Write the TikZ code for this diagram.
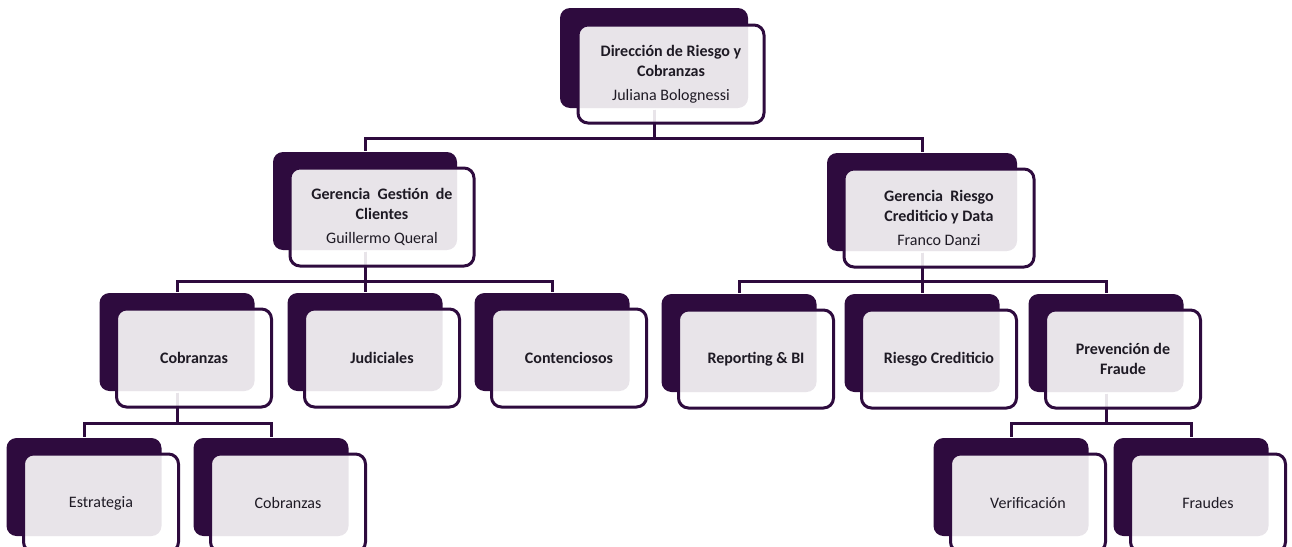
\documentclass[tikz,border=0pt]{standalone}
\usepackage{fontspec}
\setmainfont{Carlito}
\usetikzlibrary{positioning}
\definecolor{orgdark}{HTML}{2E0B3E}
\definecolor{orgtext}{HTML}{1E1A24}

\begin{document}
\begin{tikzpicture}[
                x=1pt,y=-1pt,
                line width=3pt,
                back/.style={fill=orgdark,rounded corners=10pt,minimum width=155pt,minimum height=98pt,inner sep=0pt},
                front/.style={draw=orgdark,fill=white,fill opacity=0.89,text opacity=1,rounded corners=10pt,
                              minimum width=155pt,minimum height=98pt,inner sep=0pt,align=center,text=orgtext,
                              font=\fontsize{16}{20}\selectfont\bfseries},
                conn/.style={draw=orgdark}] %

\useasboundingbox (0,0) rectangle (1292,546);

% back boxes

                    % 1
                    \node[back,minimum width=188pt,minimum height=100pt] (DIR-b) at (654,58) {};

                    % 2
                    \node[back,minimum width=184pt] (GGC-b) at (365,201) {};
                    \node[back,minimum width=190pt] (GRC-b) at (922,202) {};

                    % 3
                    \node[back] (COB-b) at (177,342) {};
                    \node[back] (JUD-b) at (365,342) {};
                    \node[back] (CON-b) at (552,342) {};
                    \node[back] (REP-b) at (739,343) {};
                    \node[back] (RCR-b) at (922,343) {};
                    \node[back] (PRF-b) at (1106,343) {};

                    % 4
                    \node[back] (EST-b) at (84,487) {};
                    \node[back] (COB2-b) at (271,487) {};
                    \node[back] (VER-b) at (1011,487) {};
                    \node[back] (FRA-b) at (1191,487) {};

% connectors

                    \draw[conn] (DIR-b.south) -- ++(0,29) -| (GGC-b.north);
                    \draw[conn] (DIR-b.south) -- ++(0,29) -| (GRC-b.north);

                    \draw[conn] (GGC-b.south) -- ++(0,30) -| (COB-b.north);
                    \draw[conn] (GGC-b.south) -- (JUD-b.north);
                    \draw[conn] (GGC-b.south) -- ++(0,30) -| (CON-b.north);

                    \draw[conn] (GRC-b.south) -- ++(0,29) -| (REP-b.north);
                    \draw[conn] (GRC-b.south) -- (RCR-b.north);
                    \draw[conn] (GRC-b.south) -- ++(0,29) -| (PRF-b.north);

                    \draw[conn] (COB-b.south) -- ++(0,31) -| (EST-b.north);
                    \draw[conn] (COB-b.south) -- ++(0,31) -| (COB2-b.north);

                    \draw[conn] (PRF-b.south) -- ++(0,30) -| (VER-b.north);
                    \draw[conn] (PRF-b.south) -- ++(0,30) -| (FRA-b.north);

% front boxes

                    % 1
                    \node[front,minimum width=186pt] (DIR) at ([shift={(17,16)}]DIR-b.center) {Dirección de Riesgo y\\Cobranzas\\[4pt]{\mdseries Juliana Bolognessi}};

                    % 2
                    \node[front,minimum width=184pt] (GGC) at ([shift={(17,16)}]GGC-b.center) {Gerencia \ Gestión \ de\\Clientes\\[4pt]{\mdseries Guillermo Queral}};
                    \node[front,minimum width=190pt] (GRC) at ([shift={(17,16)}]GRC-b.center) {Gerencia \ Riesgo\\Crediticio y Data\\[4pt]{\mdseries Franco Danzi}};

                    % 3
                    \node[front] (COB) at ([shift={(17,16)}]COB-b.center) {Cobranzas};
                    \node[front] (JUD) at ([shift={(17,16)}]JUD-b.center) {Judiciales};
                    \node[front] (CON) at ([shift={(17,16)}]CON-b.center) {Contenciosos};
                    \node[front] (REP) at ([shift={(17,16)}]REP-b.center) {Reporting \& BI};
                    \node[front] (RCR) at ([shift={(17,16)}]RCR-b.center) {Riesgo Crediticio};
                    \node[front] (PRF) at ([shift={(17,16)}]PRF-b.center) {Prevención de\\Fraude};

                    % 4
                    \node[front,font=\fontsize{16}{20}\selectfont] (EST) at ([shift={(17,16)}]EST-b.center) {Estrategia};
                    \node[front,font=\fontsize{16}{20}\selectfont] (COB2) at ([shift={(17,16)}]COB2-b.center) {Cobranzas};
                    \node[front,font=\fontsize{16}{20}\selectfont] (VER) at ([shift={(17,16)}]VER-b.center) {Verificación};
                    \node[front,font=\fontsize{16}{20}\selectfont] (FRA) at ([shift={(17,16)}]FRA-b.center) {Fraudes};

%%%%%%%%%%%%%%%%%%%%%%%%%%%%%%%%%%%%%%%%%%%%%%%%%%%%%%%%%%%%%%%%%%%%%%%%%%%%%%%%%%%%

\end{tikzpicture}
\end{document}
